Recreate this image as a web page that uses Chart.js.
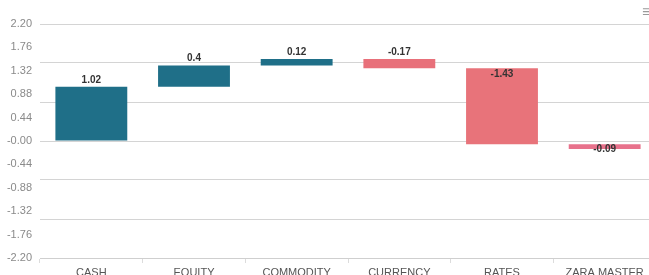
<!DOCTYPE html>
<html>
<head>
<meta charset="utf-8">
<script src="https://cdn.jsdelivr.net/npm/chart.js@4"></script>
<style>
  html, body { margin: 0; padding: 0; background: #fff; overflow: hidden; }
  #wrap { position: relative; width: 660px; height: 290px; }
  #menu { position: absolute; left: 642px; top: 3px; font: 16px 'Liberation Sans', Arial, sans-serif; color: #9a9a9a; }
</style>
</head>
<body>
<div id="wrap">
  <canvas id="chart"></canvas>
  <span id="menu">≡</span>
</div>
<script>
// dados
const categories = ['CASH', 'EQUITY', 'COMMODITY', 'CURRENCY', 'RATES', 'ZARA MASTER'];
const changes = [1.02, 0.4, 0.12, -0.17, -1.43, -0.09];
const yTickValues = [2.2, 1.76, 1.32, 0.88, 0.44, 0, -0.44, -0.88, -1.32, -1.76, -2.2];
const yTickLabels = ['2.20', '1.76', '1.32', '0.88', '0.44', '-0.00', '-0.44', '-0.88', '-1.32', '-1.76', '-2.20'];
const yMin = -2.2, yMax = 2.2;

// cores
const barColors = ['#1f6f88', '#1f6f88', '#1f6f88', '#e8707a', '#e8737a', '#e8728c'];

// barras flutuantes (cascata) a partir das variações
const ranges = [];
let acc = 0;
changes.forEach(c => { ranges.push([acc, acc + c]); acc += c; });

// linhas de grade: 6 intervalos iguais, independentes dos rótulos
const gridValues = [];
for (let i = 0; i <= 6; i++) gridValues.push(yMax - i * (yMax - yMin) / 6);

const near = (a, b) => Math.abs(a - b) < 1e-6;
const allTicks = [...new Set([...yTickValues, ...gridValues].map(v => +v.toFixed(6)))].sort((a, b) => b - a);

// rótulos de valor sobre as barras
const valueLabels = {
  id: 'valueLabels',
  afterDatasetsDraw(chart) {
    const { ctx } = chart;
    const meta = chart.getDatasetMeta(0);
    const y = chart.scales.y;
    ctx.save();
    ctx.font = 'bold 10px "Liberation Sans", Arial, sans-serif';
    ctx.fillStyle = '#333';
    ctx.textAlign = 'center';
    ctx.textBaseline = 'middle';
    meta.data.forEach((bar, i) => {
      const [a, b] = ranges[i];
      const top = y.getPixelForValue(Math.max(a, b));
      const bottom = y.getPixelForValue(Math.min(a, b));
      let ly;
      if (changes[i] < 0 && Math.min(a, b) < 0 && Math.max(a, b) <= 0.05) ly = bottom;
      else if (changes[i] < 0 && bottom - top > 30) ly = top + 6;
      else ly = top - 7;
      ctx.fillText(String(changes[i]), bar.x, ly);
    });
    ctx.restore();
  }
};

new Chart(document.getElementById('chart'), {
  type: 'bar',
  data: {
    labels: categories,
    datasets: [{
      data: ranges,
      backgroundColor: barColors,
      borderWidth: 0,
      barPercentage: 0.7,
      categoryPercentage: 1
    }]
  },
  options: {
    responsive: true,
    maintainAspectRatio: false,
    animation: false,
    layout: { padding: { top: 24, right: 4, left: 0, bottom: 0 } },
    plugins: {
      legend: { display: false },
      tooltip: { enabled: false }
    },
    scales: {
      x: {
        grid: { offset: true, drawOnChartArea: false, drawTicks: true, tickLength: 5, color: '#dcdcdc' },
        border: { color: '#cfcfcf' },
        ticks: { color: '#555', padding: 3, maxRotation: 0, font: { family: "'Liberation Sans', Arial, sans-serif", size: 11 } },
        afterFit: (scale) => { scale.height = 32; }
      },
      y: {
        min: yMin,
        max: yMax,
        afterBuildTicks: (scale) => { scale.ticks = allTicks.map(v => ({ value: v })); },
        afterFit: (scale) => { scale.width = 40; },
        border: { display: false },
        grid: {
          drawTicks: false,
          color: (ctx) => (ctx.tick && gridValues.some(g => near(g, ctx.tick.value))) ? '#d4d4d4' : 'rgba(0,0,0,0)'
        },
        ticks: {
          autoSkip: false,
          padding: 8,
          color: '#8a8a8a',
          font: { family: "'Liberation Sans', Arial, sans-serif", size: 11 },
          callback: (value) => {
            const i = yTickValues.findIndex(t => near(t, value));
            return i >= 0 ? yTickLabels[i] : '';
          }
        }
      }
    }
  },
  plugins: [valueLabels]
});
</script>
</body>
</html>
